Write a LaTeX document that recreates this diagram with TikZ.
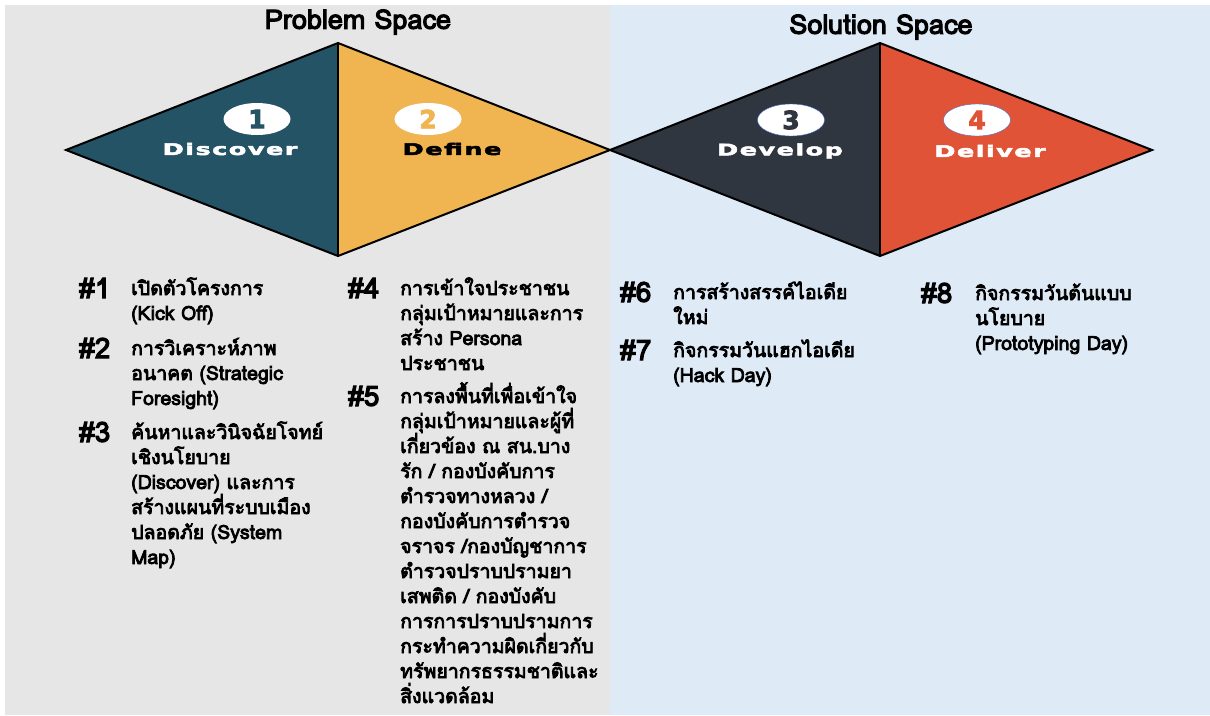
\documentclass[tikz,border=0pt]{standalone}
\usepackage{fontspec}
\usetikzlibrary{positioning,shapes.geometric}
\newfontfamily\thaifont[Script=Thai,FakeBold=4]{Loma}
\newfontfamily\phasefont[FakeStretch=1.6,LetterSpace=9,FakeBold=3]{DejaVu Sans}
\newfontfamily\badgefont[FakeBold=3.5]{DejaVu Sans}
\newcommand{\steplines}[1]{\vtop{\baselineskip=25pt\lineskiplimit=-40pt\lineskip=0pt\halign{##\hfil\cr#1\crcr}}}
\definecolor{pbGray}{RGB}{230,230,230}
\definecolor{pbBlue}{RGB}{222,234,246}
\definecolor{dcTeal}{RGB}{36,83,101}
\definecolor{dfGold}{RGB}{240,180,80}
\definecolor{dvSlate}{RGB}{48,54,64}
\definecolor{dlRed}{RGB}{224,83,54}
\definecolor{ringBlue}{RGB}{68,114,196}

\tikzset{
  phase/.style={draw=black, line width=2pt, line join=miter},
  badge/.style={ellipse, fill=white, minimum width=67pt, minimum height=32pt, inner sep=0pt,
    font=\badgefont\bfseries\fontsize{25}{25}\selectfont},
  stage/.style={inner sep=0pt, font=\phasefont\bfseries\fontsize{16}{16}\selectfont},
  spacetitle/.style={inner sep=0pt, font=\thaifont\fontsize{27}{27}\selectfont},
  stepno/.style={anchor=base west, inner sep=0pt, font=\thaifont\fontsize{28}{28}\selectfont},
  stepbox/.style={anchor=base west, inner sep=0pt, font=\thaifont\fontsize{19.5}{25}\selectfont}
}

\begin{document}
\begin{tikzpicture}[x=1pt, y=-1pt]
  \useasboundingbox (0,0) rectangle (1210,715);

  % two spaces
  \fill[pbGray] (5,5) rectangle (610,715);
  \fill[pbBlue] (610,5) rectangle (1210,715);
  \node[spacetitle] (probT) at (358,22) {Problem Space};
  \node[spacetitle] (soluT) at (881,27) {Solution Space};

  % double diamond
  \coordinate (L1) at (66,150);
  \coordinate (T1) at (338,43);
  \coordinate (B1) at (338,256);
  \coordinate (M) at (610,150);
  \coordinate (T2) at (880,43);
  \coordinate (B2) at (880,256);
  \coordinate (R2) at (1152,150);
  \fill[dcTeal] (L1) -- (T1) -- (B1) -- cycle;
  \fill[dfGold] (T1) -- (M) -- (B1) -- cycle;
  \fill[dvSlate] (M) -- (T2) -- (B2) -- cycle;
  \fill[dlRed] (T2) -- (R2) -- (B2) -- cycle;
  \draw[phase] (L1) -- (T1) -- (M) -- (T2) -- (R2) -- (B2) -- (M) -- (B1) -- cycle;
  \draw[phase] (T1) -- (B1);
  \draw[phase] (T2) -- (B2);

  % stage badges
  \node[badge, text=dcTeal] (b1) at (257,119) {1};
  \node[badge, text=dfGold] (b2) at (428,119) {2};
  \node[badge, text=dvSlate, draw=ringBlue, thin] (b3) at (791,120) {3};
  \node[badge, text=dlRed, draw=ringBlue, thin] (b4) at (977,120) {4};
  \node[stage, text=white] (s1) at (230,149) {Discover};
  \node[stage, text=black] (s2) at (452,149) {Define};
  \node[stage, text=white] (s3) at (780,151) {Develop};
  \node[stage, text=white] (s4) at (990,151) {Deliver};

  % activities
  \node[stepno] (n1) at (79,298) {\#1};
  \node[stepbox] (a1) at (131,295) {\steplines{เปิดตัวโครงการ\cr(Kick Off)}};
  \node[stepno] (n2) at (79,358) {\#2};
  \node[stepbox] (a2) at (131,355) {\steplines{การวิเคราะห์ภาพ\cr อนาคต (Strategic\cr Foresight)}};
  \node[stepno] (n3) at (79,442) {\#3};
  \node[stepbox] (a3) at (131,439) {\steplines{ค้นหาและวินิจฉัยโจทย์\cr เชิงนโยบาย\cr(Discover) และการ\cr สร้างแผนที่ระบบเมือง\cr ปลอดภัย (System\cr Map)}};

  \node[stepno] (n4) at (348,298) {\#4};
  \node[stepbox] (a4) at (400,295) {\steplines{การเข้าใจประชาชน\cr กลุ่มเป้าหมายและการ\cr สร้าง Persona\cr ประชาชน}};
  \node[stepno] (n5) at (348,406) {\#5};
  \node[stepbox] (a5) at (400,403) {\steplines{การลงพื้นที่เพื่อเข้าใจ\cr กลุ่มเป้าหมายและผู้ที่\cr เกี่ยวข้อง ณ สน.บาง\cr รัก / กองบังคับการ\cr ตำรวจทางหลวง /\cr กองบังคับการตำรวจ\cr จราจร /กองบัญชาการ\cr ตำรวจปราบปรามยา\cr เสพติด / กองบังคับ\cr การการปราบปรามการ\cr กระทำความผิดเกี่ยวกับ\cr ทรัพยากรธรรมชาติและ\cr สิ่งแวดล้อม}};

  \node[stepno] (n6) at (620,302) {\#6};
  \node[stepbox] (a6) at (673,299) {\steplines{การสร้างสรรค์ไอเดีย\cr ใหม่}};
  \node[stepno] (n7) at (620,360) {\#7};
  \node[stepbox] (a7) at (673,357) {\steplines{กิจกรรมวันแฮกไอเดีย\cr(Hack Day)}};

  \node[stepno] (n8) at (921,303) {\#8};
  \node[stepbox] (a8) at (975,300) {\steplines{กิจกรรมวันต้นแบบ\cr นโยบาย\cr(Prototyping Day)}};
\end{tikzpicture}
\end{document}
